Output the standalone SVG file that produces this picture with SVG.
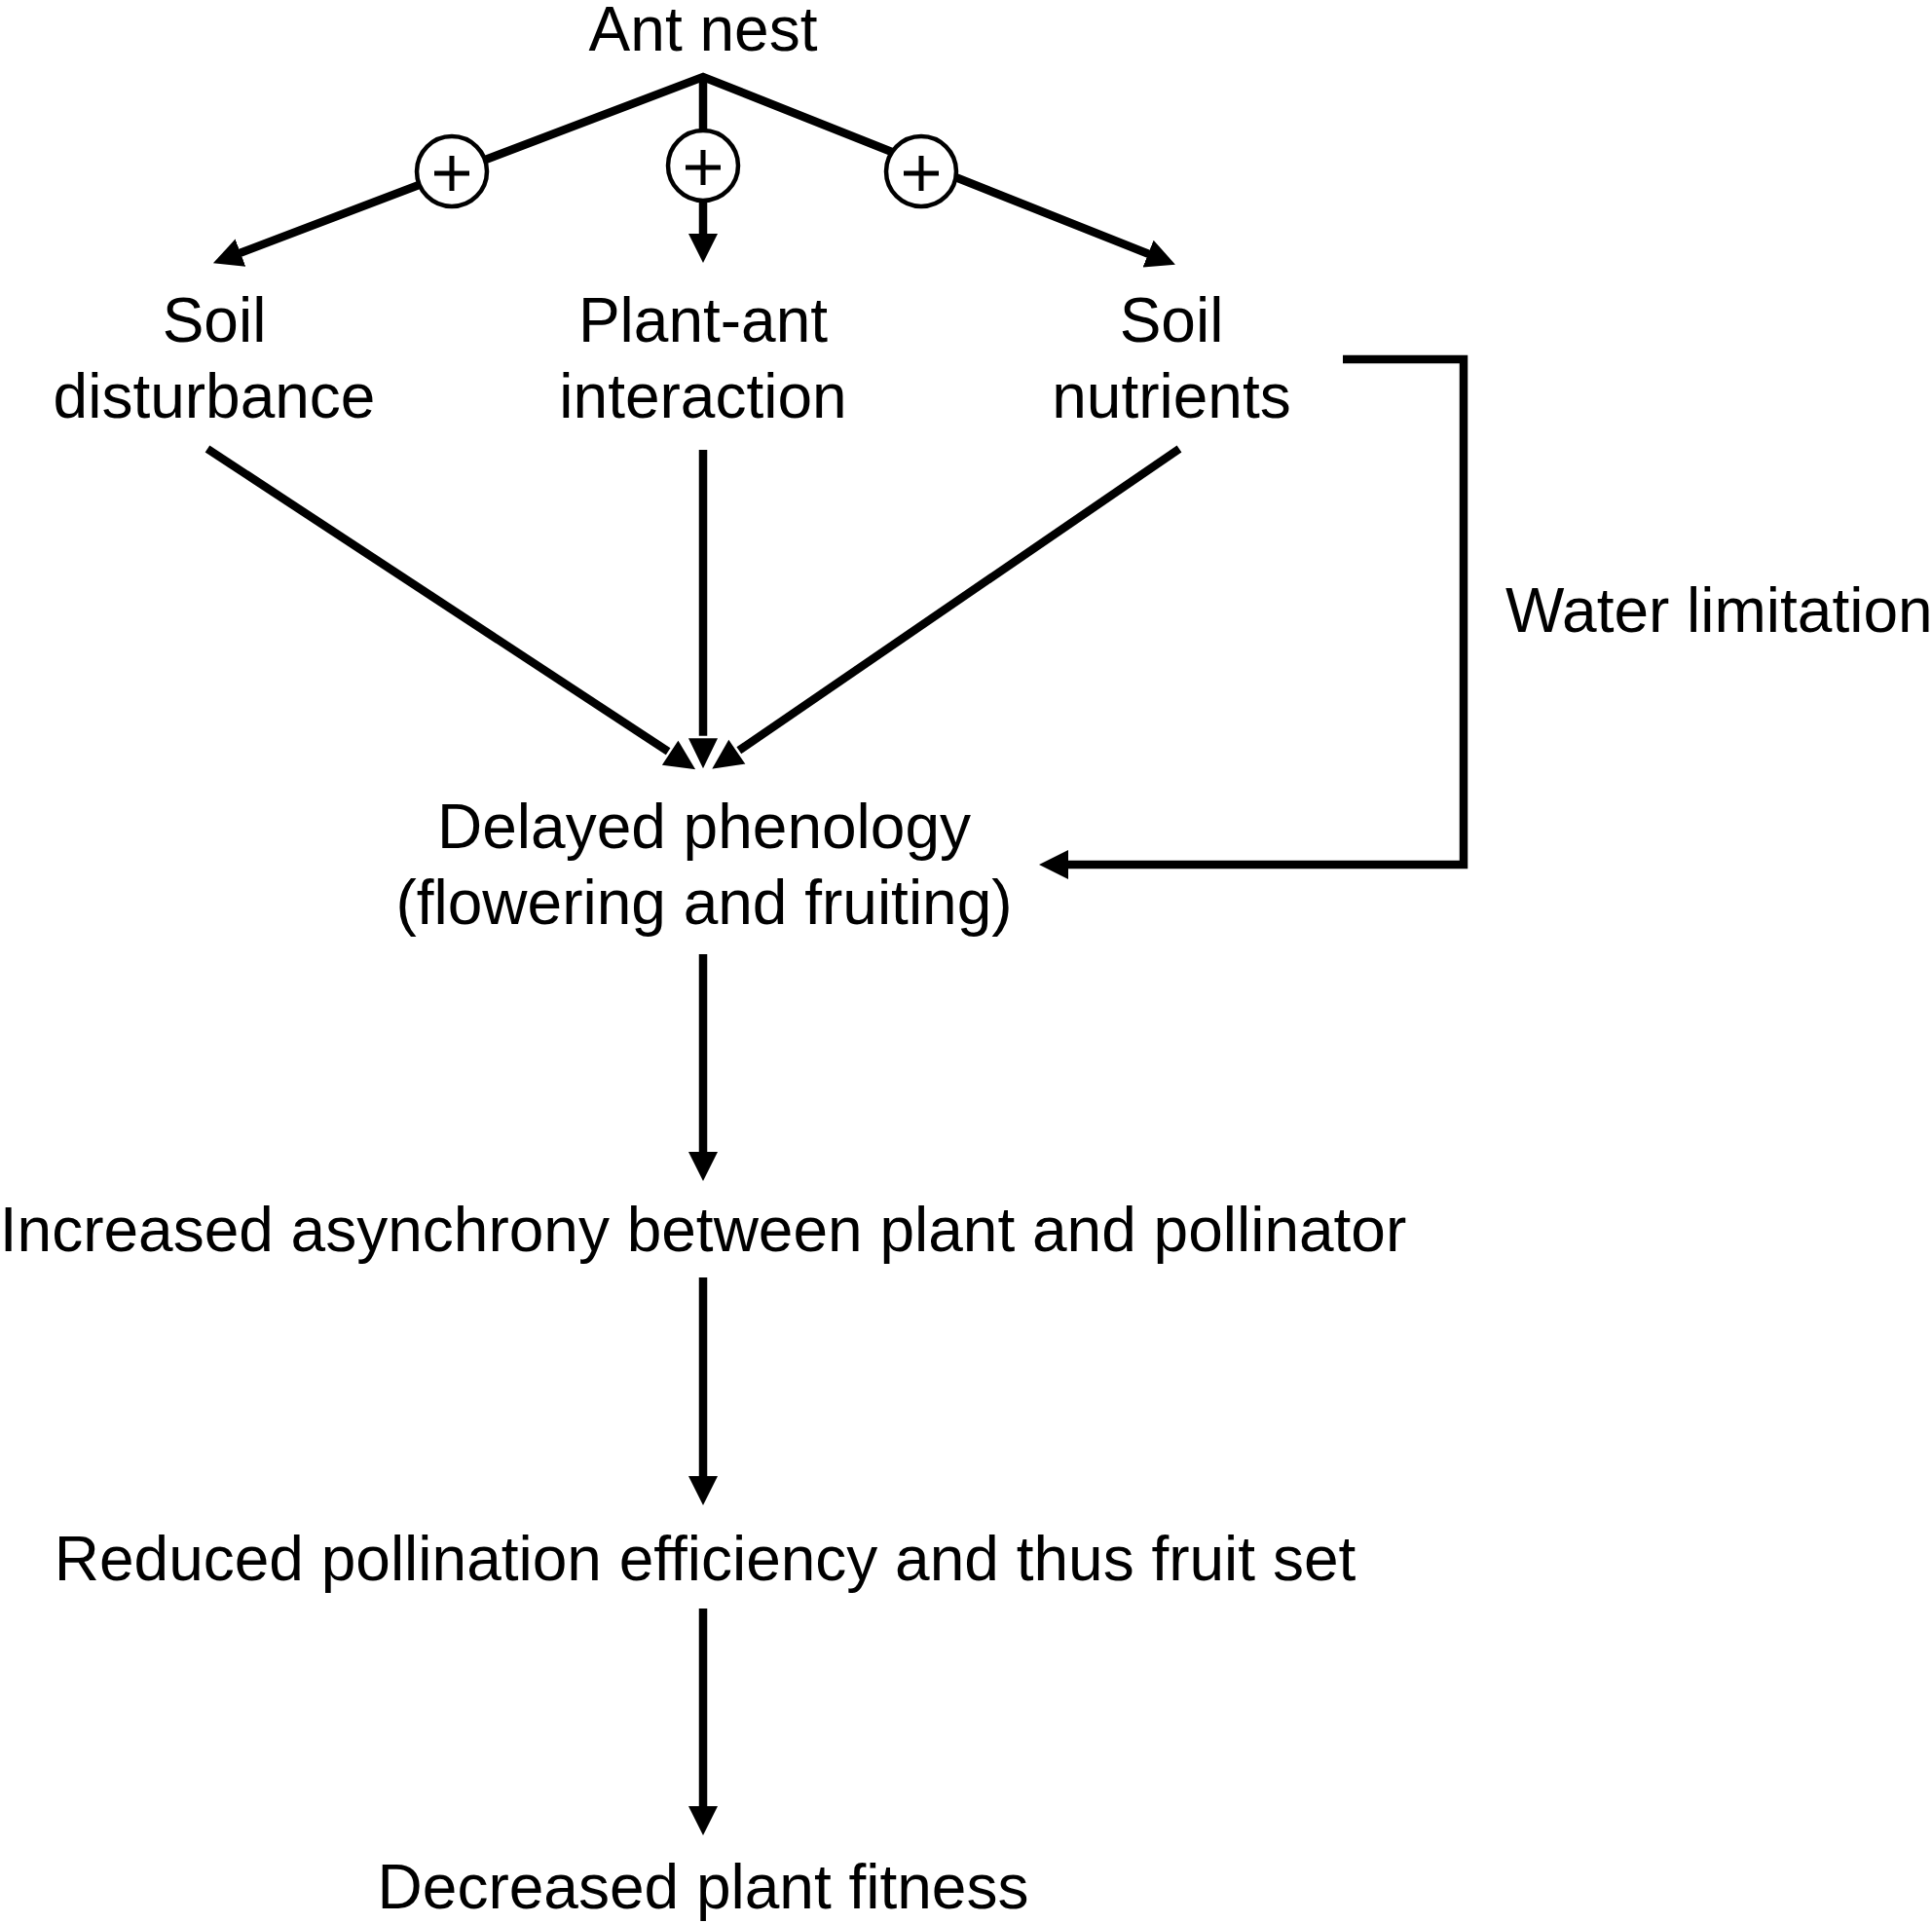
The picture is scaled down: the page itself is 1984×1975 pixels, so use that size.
<svg xmlns="http://www.w3.org/2000/svg" width="1984" height="1975" viewBox="0 0 1984 1975">
<style>
  text { font-family: "Liberation Sans", Arial, sans-serif; font-size: 64px; fill: #000; text-anchor: middle; }
  .ln { fill: none; stroke: #000; stroke-width: 8.5; stroke-linejoin: miter; }
  .circ { fill: #fff; stroke: #000; stroke-width: 4.5; }
  .plus { stroke: #000; stroke-width: 5; }
</style>
<defs>
  <marker id="ah" markerUnits="userSpaceOnUse" markerWidth="32" markerHeight="32" viewBox="0 0 32 32" refX="1" refY="16" orient="auto-start-reverse">
    <path d="M0,1 L30,16 L0,31 z" fill="#000"/>
  </marker>
  <marker id="ahw" markerUnits="userSpaceOnUse" markerWidth="42" markerHeight="42" viewBox="-3 -5 42 42" refX="1" refY="16" orient="auto">
    <path d="M0,-1 L35,16 L0,33 z" fill="#000" stroke="#fff" stroke-width="2.5" stroke-linejoin="miter"/>
  </marker>
</defs>
<rect width="1984" height="1975" fill="#fff"/>
<g id="connectors">
  <path class="ln" d="M246,260 L722,79 L1180,261" marker-start="url(#ah)" marker-end="url(#ah)"/>
  <path class="ln" d="M722,79 V241" marker-end="url(#ah)"/>
  <path class="ln" d="M213,461 L688,773" marker-end="url(#ahw)"/>
  <path class="ln" d="M1211,461 L757,772" marker-end="url(#ahw)"/>
  <path class="ln" d="M722,462 V758" marker-end="url(#ahw)"/>
  <path class="ln" d="M1379,369 H1503 V888 H1096" marker-end="url(#ah)"/>
  <path class="ln" d="M722,980 V1184" marker-end="url(#ah)"/>
  <path class="ln" d="M722,1312 V1517" marker-end="url(#ah)"/>
  <path class="ln" d="M722,1652 V1856" marker-end="url(#ah)"/>
</g>
<g id="plus-left">
  <circle class="circ" cx="464" cy="176" r="36"/>
  <path class="plus" d="M446,178 H482 M464,160 V196"/>
</g>
<g id="plus-middle">
  <circle class="circ" cx="722" cy="170" r="36"/>
  <path class="plus" d="M704,172 H740 M722,154 V190"/>
</g>
<g id="plus-right">
  <circle class="circ" cx="946" cy="176" r="36"/>
  <path class="plus" d="M928,178 H964 M946,160 V196"/>
</g>
<g id="ant-nest"><text x="722" y="52">Ant nest</text></g>
<g id="soil-disturbance"><text x="220" y="351">Soil</text><text x="220" y="429">disturbance</text></g>
<g id="plant-ant"><text x="722" y="351">Plant-ant</text><text x="722" y="429">interaction</text></g>
<g id="soil-nutrients"><text x="1203" y="351">Soil</text><text x="1203" y="429">nutrients</text></g>
<g id="water-limitation"><text x="1546" y="649" style="text-anchor:start">Water limitation</text></g>
<g id="delayed-phenology"><text x="723" y="871">Delayed phenology</text><text x="723" y="949">(flowering and fruiting)</text></g>
<g id="asynchrony"><text x="722" y="1285">Increased asynchrony between plant and pollinator</text></g>
<g id="pollination"><text x="724" y="1623">Reduced pollination efficiency and thus fruit set</text></g>
<g id="fitness"><text x="722" y="1960">Decreased plant fitness</text></g>
</svg>
